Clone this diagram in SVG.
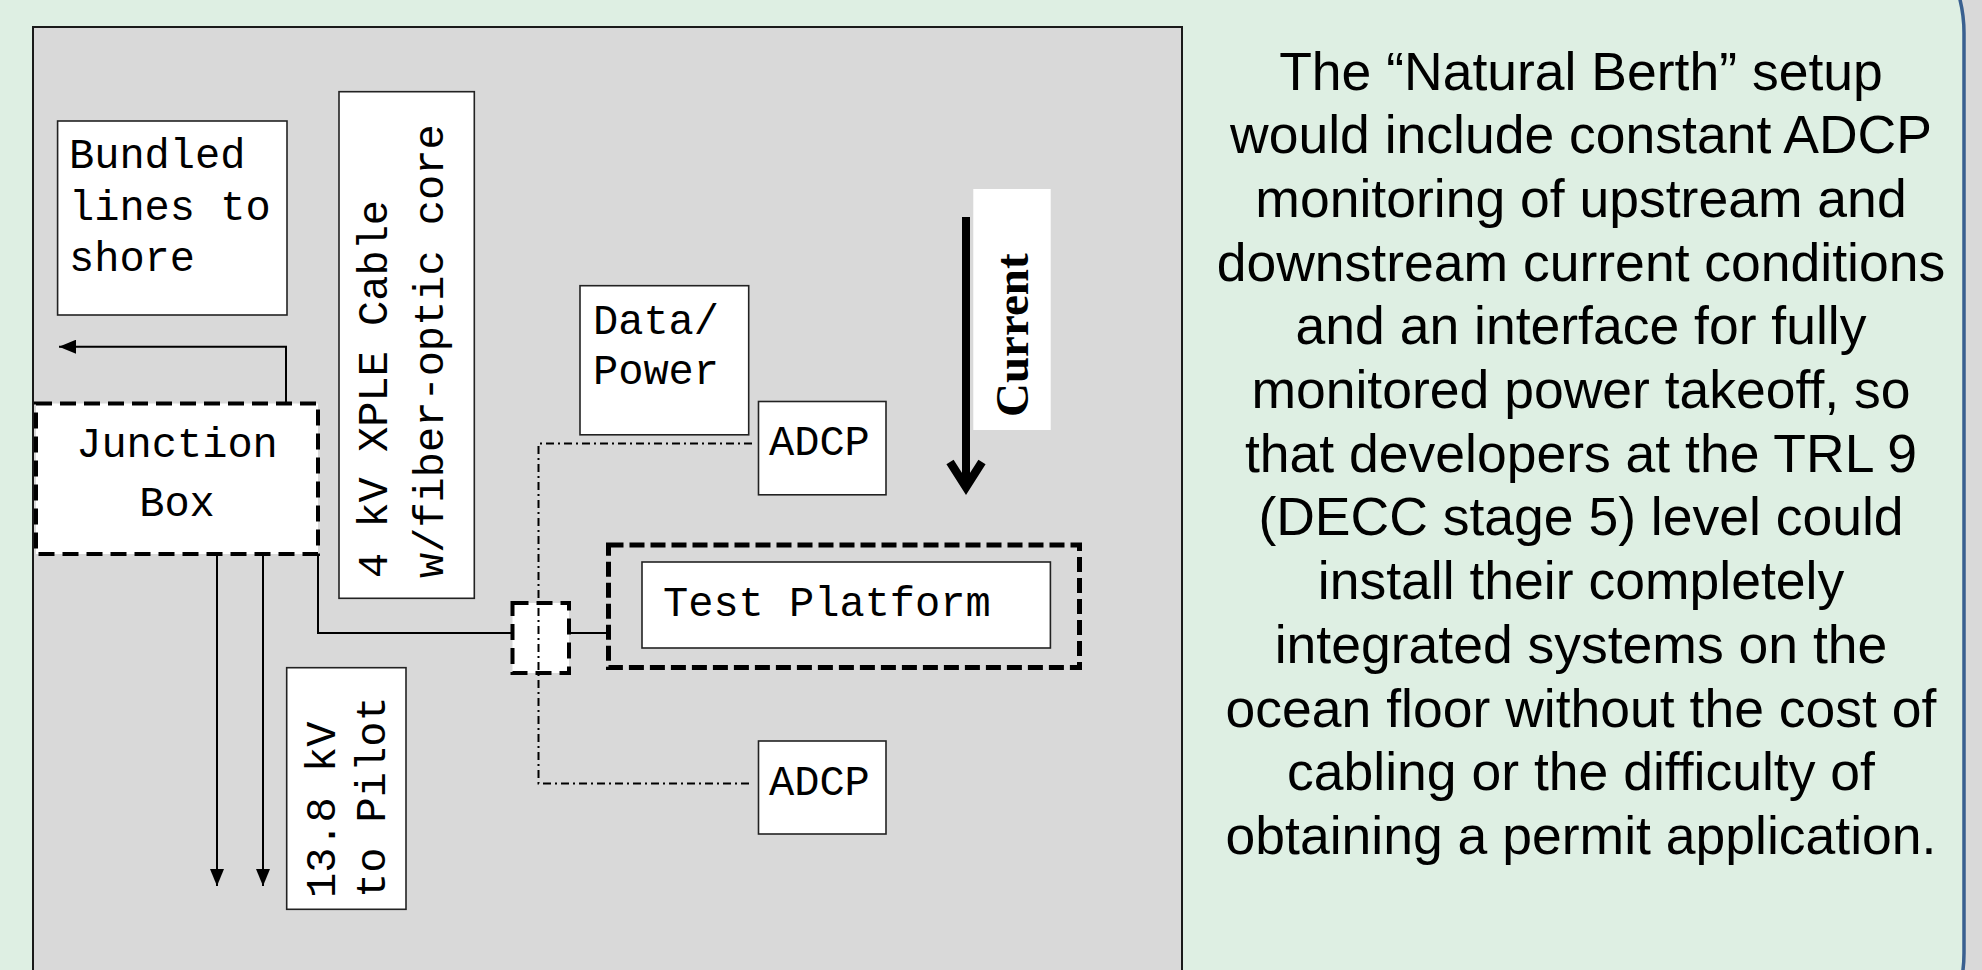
<svg xmlns="http://www.w3.org/2000/svg" width="1982" height="970" viewBox="0 0 1982 970">
  <defs>
    <marker id="arr" markerUnits="userSpaceOnUse" markerWidth="18" markerHeight="14" refX="17" refY="7" orient="auto">
      <path d="M0,0 L17,7 L0,14 z" fill="#000"/>
    </marker>
  </defs>
  <style>
    .box { fill: #fff; stroke: #222; stroke-width: 1.6; }
    .dash { fill: #fff; stroke: #000; stroke-width: 4; stroke-dasharray: 16 8; }
    .mono { font-family: "Liberation Mono", "Courier New", monospace; font-size: 42px; fill: #000; }
    .line { fill: none; stroke: #000; stroke-width: 2; }
    .dashdot { fill: none; stroke: #000; stroke-width: 2; stroke-dasharray: 8 4 2 4; }
    .body { font-family: "Liberation Sans", Arial, sans-serif; font-size: 53.5px; fill: #000; text-anchor: middle; }
  </style>

  <!-- backgrounds -->
  <rect x="0" y="0" width="1982" height="970" fill="#D9D9D9"/>
  <rect x="-60" y="-107" width="2024" height="1200" rx="140" ry="140" fill="#DEEFE3" stroke="#3A6090" stroke-width="3.5"/>
  <rect id="panel" x="33" y="27" width="1149" height="1000" fill="#D9D9D9" stroke="#1a1a1a" stroke-width="2"/>

  <!-- connectors -->
  <g id="connectors">
    <path class="line" d="M286,403 V346.7 H59" marker-end="url(#arr)"/>
    <path class="line" d="M217,554 V886" marker-end="url(#arr)"/>
    <path class="line" d="M263,554 V886" marker-end="url(#arr)"/>
    <path class="line" d="M318,554 V633 H512.5"/>
    <path class="line" d="M569,633 H608.5"/>
  </g>

  <g id="bundled">
    <rect class="box" x="57.6" y="121" width="229.4" height="194"/>
    <text class="mono" x="69" y="168">Bundled</text>
    <text class="mono" x="69" y="220">lines to</text>
    <text class="mono" x="69" y="271">shore</text>
  </g>

  <g id="junction">
    <rect class="dash" x="36" y="403.5" width="282" height="150.5"/>
    <text class="mono" x="177" y="457" text-anchor="middle">Junction</text>
    <text class="mono" x="177" y="516" text-anchor="middle">Box</text>
  </g>

  <g id="cable">
    <rect class="box" x="339" y="91.7" width="135.3" height="506.6"/>
    <text class="mono" transform="translate(386.5,578) rotate(-90)">4 kV XPLE Cable<tspan x="0" dy="56.5">w/fiber-optic core</tspan></text>
  </g>

  <g id="pilot">
    <rect class="box" x="286.7" y="667.7" width="119.3" height="241.6"/>
    <text class="mono" transform="translate(335,898) rotate(-90)">13.8 kV<tspan x="0" dy="50">to Pilot</tspan></text>
  </g>

  <g id="datapower">
    <rect class="box" x="580" y="285.7" width="168.7" height="149.1"/>
    <text class="mono" x="593" y="334">Data/</text>
    <text class="mono" x="593" y="384">Power</text>
  </g>

  <g id="adcp1">
    <rect class="box" x="758.5" y="401.5" width="127.5" height="93.3"/>
    <text class="mono" x="769" y="455">ADCP</text>
  </g>

  <g id="adcp2">
    <rect class="box" x="758.5" y="741" width="127.5" height="93"/>
    <text class="mono" x="769" y="794.5">ADCP</text>
  </g>

  <g id="connector-box">
    <rect class="dash" x="512.5" y="603" width="56.5" height="70"/>
  </g>

  <g id="sensor-lines">
    <path class="dashdot" d="M752,443.5 H538.5 V783.5 H752"/>
  </g>

  <g id="test-platform">
    <rect x="608.5" y="545" width="471" height="122.4" fill="none" stroke="#000" stroke-width="5" stroke-dasharray="15 6"/>
    <rect class="box" x="642" y="562" width="408.4" height="86"/>
    <text class="mono" x="663" y="616">Test Platform</text>
  </g>

  <g id="current">
    <rect x="973.3" y="189" width="77.4" height="241" fill="#fff"/>
    <line x1="966" y1="217" x2="966" y2="488" stroke="#000" stroke-width="8"/>
    <polyline points="950,462 966,487 982,462" fill="none" stroke="#000" stroke-width="8.5" stroke-linejoin="miter"/>
    <text transform="translate(1028,417) rotate(-90)" font-family="Liberation Serif, Times New Roman, serif" font-weight="bold" font-size="47">Current</text>
  </g>

  <g id="description">
    <text class="body" x="1581" y="89.5">The “Natural Berth” setup</text>
    <text class="body" x="1581" y="153.2">would include constant ADCP</text>
    <text class="body" x="1581" y="216.9">monitoring of upstream and</text>
    <text class="body" x="1581" y="280.6">downstream current conditions</text>
    <text class="body" x="1581" y="344.3">and an interface for fully</text>
    <text class="body" x="1581" y="408">monitored power takeoff, so</text>
    <text class="body" x="1581" y="471.7">that developers at the TRL 9</text>
    <text class="body" x="1581" y="535.4">(DECC stage 5) level could</text>
    <text class="body" x="1581" y="599.1">install their completely</text>
    <text class="body" x="1581" y="662.8">integrated systems on the</text>
    <text class="body" x="1581" y="726.5">ocean floor without the cost of</text>
    <text class="body" x="1581" y="790.2">cabling or the difficulty of</text>
    <text class="body" x="1581" y="853.9">obtaining a permit application.</text>
  </g>
</svg>
